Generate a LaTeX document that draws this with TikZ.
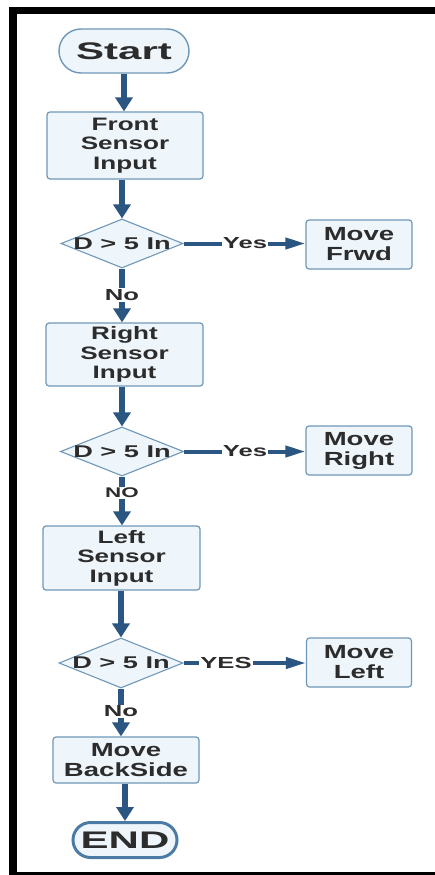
\documentclass[tikz,border=0pt]{standalone}
\usepackage{fontspec}
\setmainfont{Liberation Sans}
\newfontfamily\termfont{Liberation Sans}[FakeStretch=1.75]
\newfontfamily\boxfont{Liberation Sans}[FakeStretch=1.45]
\newfontfamily\tagfont{Liberation Sans}[FakeStretch=1.6]
\usetikzlibrary{shapes.geometric, arrows.meta}
\definecolor{boxfill}{HTML}{EFF6FB}
\definecolor{boxline}{HTML}{6F97B8}
\definecolor{flow}{HTML}{2B5681}
\definecolor{ink}{HTML}{2C2C2C}
\definecolor{endline}{HTML}{4B7BA5}
\tikzset{
  terminal/.style={draw=boxline, fill=boxfill, line width=1.4pt, inner sep=0pt,
    text=ink, font=\termfont\bfseries\fontsize{24}{24}\selectfont},
  process/.style={draw=boxline, fill=boxfill, line width=1.2pt, rounded corners=3pt,
    inner sep=0pt, align=center, text=ink,
    font=\boxfont\bfseries\fontsize{18}{19.5}\selectfont},
  action/.style={process, font=\boxfont\bfseries\fontsize{19}{20}\selectfont},
  decision/.style={diamond, draw=boxline, fill=boxfill, line width=1.1pt, inner sep=0pt,
    text=ink, font=\tagfont\bfseries\fontsize{17}{17}\selectfont},
  tag/.style={inner sep=1pt, text=ink, font=\tagfont\bfseries\fontsize{16}{16}\selectfont},
  vline/.style={draw=flow, line width=6.5pt},
  vflow/.style={vline, -{Triangle[length=14pt,width=17pt]}},
  hline/.style={draw=flow, line width=4pt},
  hflow/.style={hline, -{Triangle[length=20pt,width=11pt]}}
}
\begin{document}
\begin{tikzpicture}[x=1pt,y=-1pt]
  \useasboundingbox (0,0) rectangle (435,875);
  \fill[white] (0,0) rectangle (435,875);
  % page frame
  \fill[black] (9,7) rectangle (17,875);
  \fill[black] (9,7) rectangle (435,14);
  \fill[black] (9,872) rectangle (435,875);

  % main column
  \node[terminal, rounded corners=22pt, minimum width=130pt, minimum height=44pt] (start) at (124,51) {Start};
  \node[process, minimum width=156pt, minimum height=67pt] (front) at (125,145.5) {Front\\Sensor\\Input};
  \node[decision, minimum width=122pt, minimum height=49pt] (d1) at (122,243.5) {\makebox[0pt]{D > 5 In}};
  \node[tag] (no1) at (122,295) {No};
  \node[process, minimum width=157pt, minimum height=63pt] (right) at (124.5,354.5) {Right\\Sensor\\Input};
  \node[decision, minimum width=123pt, minimum height=49pt] (d2) at (122,451.5) {\makebox[0pt]{D > 5 In}};
  \node[tag, font=\tagfont\bfseries\fontsize{14}{14}\selectfont] (no2) at (122,493) {NO};
  \node[process, minimum width=157pt, minimum height=64pt] (left) at (121.5,558) {Left\\Sensor\\Input};
  \node[decision, minimum width=124pt, minimum height=50pt] (d3) at (121,663) {\makebox[0pt]{D > 5 In}};
  \node[tag] (no3) at (121,711.5) {No};
  \node[action, minimum width=146pt, minimum height=46pt] (back) at (126,760) {Move\\BackSide};
  \node[terminal, draw=endline, line width=3pt, rounded corners=17.5pt, minimum width=104pt, minimum height=35pt] (end) at (125,840) {END};

  % side actions
  \node[action, minimum width=106pt, minimum height=49pt] (frwd) at (359,244.5) {Move\\Frwd};
  \node[action, minimum width=106pt, minimum height=49pt] (mright) at (359,450.5) {Move\\Right};
  \node[action, minimum width=105pt, minimum height=49pt] (mleft) at (359,662.5) {Move\\Left};
  \node[tag] (yes1) at (245,243.5) {Yes};
  \node[tag] (yes2) at (245,451.5) {Yes};
  \node[tag] (yes3) at (226,663) {YES};

  % vertical flow
  \draw[vflow] (start.south) -- (start.south |- front.north);
  \draw[vflow] (front.south -| d1) -- (d1.north);
  \draw[vline] (d1.south) -- (no1.north);
  \draw[vflow] (no1.south) -- (no1.south |- right.north);
  \draw[vflow] (right.south -| d2) -- (d2.north);
  \draw[vline] (d2.south) -- (no2.north);
  \draw[vflow] (no2.south) -- (no2.south |- left.north);
  \draw[vflow] (left.south -| d3) -- (d3.north);
  \draw[vline] (d3.south) -- (no3.north);
  \draw[vflow] (no3.south) -- (no3.south |- back.north);
  \draw[vflow] (back.south -| end) -- (end.north);

  % yes branches
  \draw[hline] (d1.east) -- (d1.east -| yes1.west);
  \draw[hflow] (yes1.east |- d1.east) -- (frwd.west |- d1.east);
  \draw[hline] (d2.east) -- (d2.east -| yes2.west);
  \draw[hflow] (yes2.east |- d2.east) -- (mright.west |- d2.east);
  \draw[hline] (d3.east) -- (d3.east -| yes3.west);
  \draw[hflow] (yes3.east |- d3.east) -- (mleft.west |- d3.east);
\end{tikzpicture}
\end{document}
